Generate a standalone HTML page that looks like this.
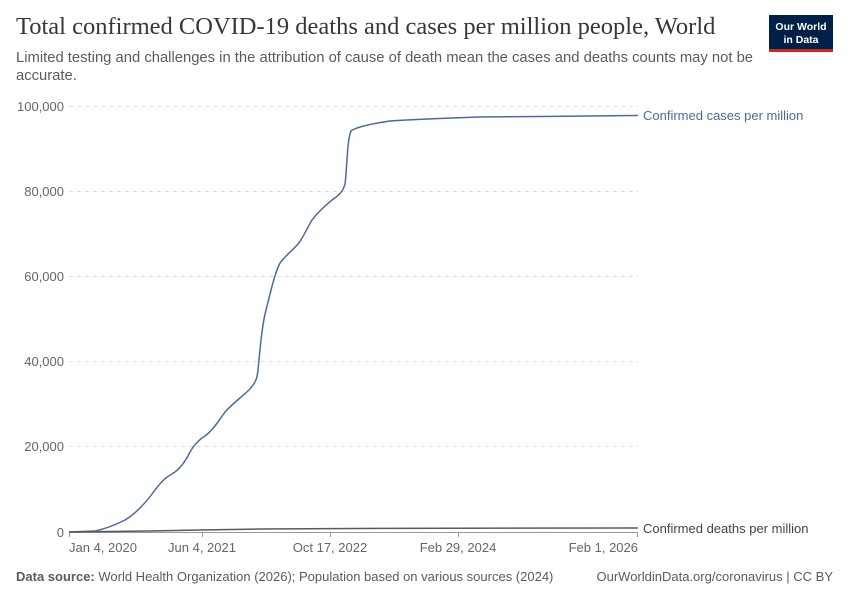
<!DOCTYPE html>
<html><head><meta charset="utf-8"><style>
body{margin:0;width:850px;height:600px;background:#fff;overflow:hidden;font-family:"Liberation Sans",sans-serif}
</style></head><body>
<svg width="850" height="600" xmlns="http://www.w3.org/2000/svg" style="position:absolute;left:0;top:0">
<text x="16" y="34" font-family="Liberation Serif,serif" font-size="24.5" fill="#373737">Total confirmed COVID-19 deaths and cases per million people, World</text>
<text x="16" y="62" font-size="14.8" fill="#5b5b5b">Limited testing and challenges in the attribution of cause of death mean the cases and deaths counts may not be</text>
<text x="16" y="80" font-size="14.8" fill="#5b5b5b">accurate.</text>
<rect x="769" y="15" width="64" height="36" fill="#002147"/>
<rect x="769" y="49" width="64" height="3" fill="#ce261e"/>
<text x="801" y="30" font-size="10.5" fill="#fff" text-anchor="middle" font-weight="bold">Our World</text>
<text x="801" y="43" font-size="10.5" fill="#fff" text-anchor="middle" font-weight="bold">in Data</text>
<g stroke="#ddd" stroke-dasharray="4,4" stroke-width="1">
<line x1="69" x2="638" y1="106.5" y2="106.5"/><line x1="69" x2="638" y1="191.5" y2="191.5"/>
<line x1="69" x2="638" y1="276.5" y2="276.5"/><line x1="69" x2="638" y1="361.5" y2="361.5"/>
<line x1="69" x2="638" y1="446.5" y2="446.5"/>
</g>
<g font-size="13" fill="#666" text-anchor="end">
<text x="64" y="111">100,000</text><text x="64" y="196">80,000</text><text x="64" y="281">60,000</text>
<text x="64" y="366">40,000</text><text x="64" y="451">20,000</text><text x="64" y="537">0</text>
</g>
<line x1="69" x2="638" y1="532.5" y2="532.5" stroke="#999"/>
<g stroke="#999"><line x1="69.5" x2="69.5" y1="532" y2="537"/><line x1="202.5" x2="202.5" y1="532" y2="537"/><line x1="330.5" x2="330.5" y1="532" y2="537"/><line x1="458.5" x2="458.5" y1="532" y2="537"/><line x1="637.5" x2="637.5" y1="532" y2="537"/></g>
<g font-size="13" fill="#666">
<text x="69" y="552">Jan 4, 2020</text><text x="202" y="552" text-anchor="middle">Jun 4, 2021</text>
<text x="330" y="552" text-anchor="middle">Oct 17, 2022</text><text x="458" y="552" text-anchor="middle">Feb 29, 2024</text>
<text x="638" y="552" text-anchor="end">Feb 1, 2026</text>
</g>
<path d="M69,532 L95,531 C105,529 115,525 125,520 C135,514 145,504 155,490 C162,481 166,477 172,474 C180,469 185,462 190,452 C195,443 200,439 205,436 C212,431 218,422 225,412 C233,403 242,397 250,389 C255,383 257,380 258,370 C260,350 262,325 266,310 C270,295 274,275 280,263 C287,254 293,250 298,244 C303,238 306,230 312,220 C318,212 324,207 332,200 C338,196 343,192 345,184 C347,170 347,140 351,131 C356,127 370,124 390,121 C420,119 450,118 480,117 L540,116.5 L638,115.5" fill="none" stroke="#4c6a9c" stroke-width="1.5"/>
<path d="M69,532 L150,531 L200,530 L260,529 L330,528.6 L450,528.2 L638,528" fill="none" stroke="#5a5a5a" stroke-width="1.5"/>
<text x="643" y="120" font-size="13" fill="#4c6a9c">Confirmed cases per million</text>
<text x="643" y="533" font-size="13" fill="#444">Confirmed deaths per million</text>
<text x="16" y="581" font-size="13" fill="#5b5b5b"><tspan font-weight="bold">Data source:</tspan> World Health Organization (2026); Population based on various sources (2024)</text>
<text x="833" y="581" font-size="13" fill="#5b5b5b" text-anchor="end">OurWorldinData.org/coronavirus | CC BY</text>
</svg>
</body></html>
